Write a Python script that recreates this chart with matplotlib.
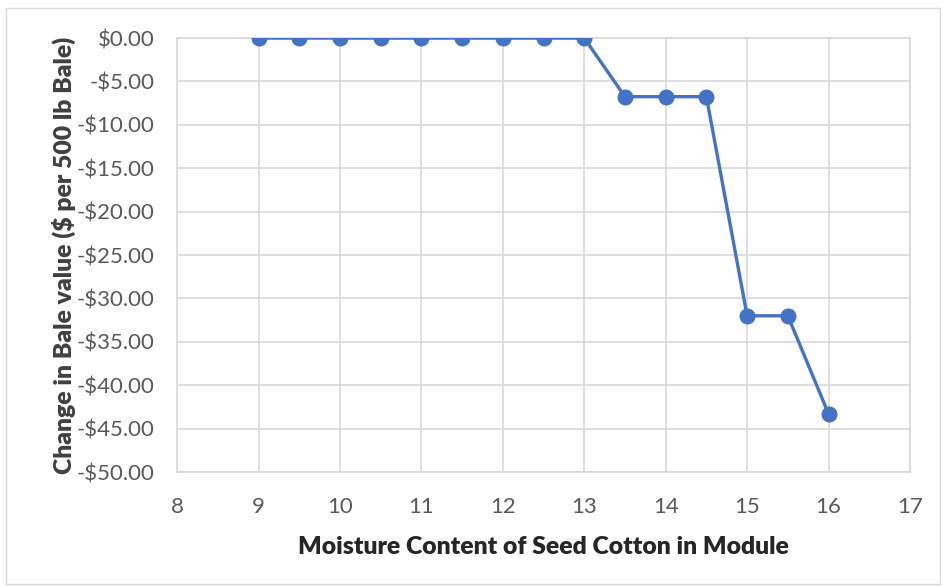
import matplotlib
matplotlib.use('Agg')
import matplotlib.pyplot as plt
import matplotlib.ticker as ticker
from matplotlib.patches import Rectangle

moisture = [9, 9.5, 10, 10.5, 11, 11.5, 12, 12.5, 13, 13.5, 14, 14.5, 15, 15.5, 16]
change = [0, 0, 0, 0, 0, 0, 0, 0, 0, -6.75, -6.75, -6.75, -32.0, -32.0, -43.3]

plt.rcParams['font.family'] = ['Lato', 'DejaVu Sans']

fig = plt.figure(figsize=(9.42, 5.86), dpi=100)
ax = fig.add_axes([0.188, 0.1945, 0.778, 0.7405])

ax.plot(moisture, change, color='#4472C4', linewidth=2.4, marker='o', markersize=10.5, zorder=3)

ax.set_xlim(8, 17)
ax.set_ylim(-50, 0)
ax.xaxis.set_major_locator(ticker.MultipleLocator(1))
ax.yaxis.set_major_locator(ticker.MultipleLocator(5))

def money(v, pos):
    if v < 0:
        return '-${:.2f}'.format(-v)
    return '${:.2f}'.format(abs(v))

ax.yaxis.set_major_formatter(ticker.FuncFormatter(money))
ax.grid(True, color='#D9D9D9', linewidth=1.2)
ax.set_axisbelow(True)
ax.tick_params(length=0, labelsize=16, labelcolor='#595959')
ax.tick_params(axis='y', pad=16)
ax.tick_params(axis='x', pad=18)
for s in ax.spines.values():
    s.set_color('#D9D9D9')
    s.set_linewidth(1.2)

ax.set_xlabel('Moisture Content of Seed Cotton in Module', fontsize=17.8, fontweight='heavy', color='#262626', labelpad=14)
ax.set_ylabel('Change in Bale value ($ per 500 lb Bale)', fontsize=17.8, fontweight='heavy', color='#404040', labelpad=1)

fig.patches.append(Rectangle((0.006, 0.004), 0.992, 0.983, transform=fig.transFigure,
                             fill=False, edgecolor='#D9D9D9', linewidth=1))

fig.savefig('out.png', dpi=100)
